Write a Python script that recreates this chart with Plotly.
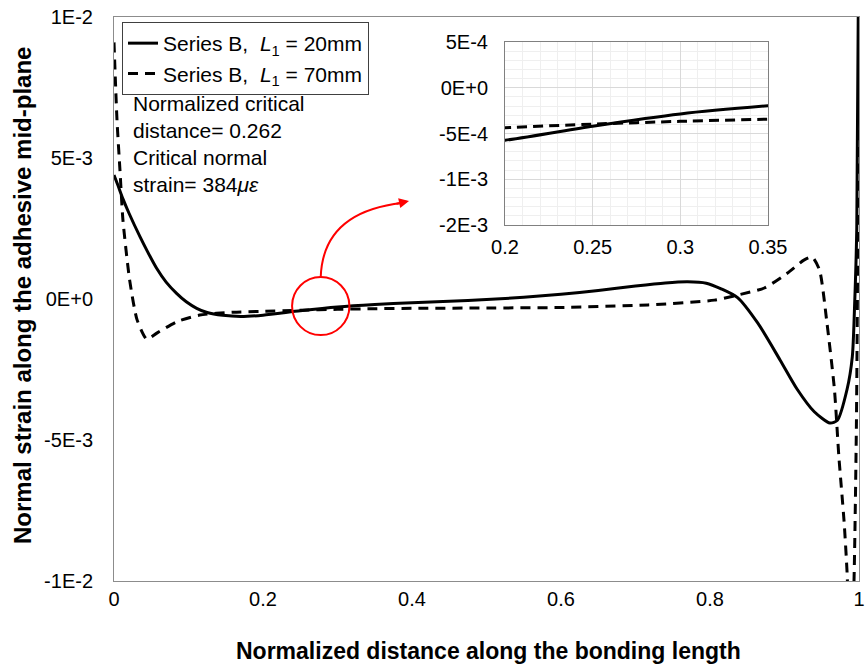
import plotly.graph_objects as go

# ---------------- data ----------------
x_solid = [0.0, 0.005, 0.012, 0.02, 0.035, 0.045, 0.057, 0.07, 0.084, 0.097, 0.111, 0.125, 0.146,
           0.17, 0.2, 0.25, 0.3, 0.35, 0.4, 0.45, 0.5, 0.55, 0.6, 0.65, 0.7, 0.74, 0.77, 0.795,
           0.815, 0.837, 0.864, 0.894, 0.917, 0.94, 0.961, 0.971, 0.984, 0.991, 0.994, 0.997, 1.0]
y_solid = [4.4e-3, 4.05e-3, 3.55e-3, 3.05e-3, 2.2e-3, 1.68e-3, 1.1e-3, 0.6e-3, 0.2e-3, -0.1e-3,
           -0.33e-3, -0.48e-3, -0.58e-3, -0.62e-3, -0.574e-3, -0.42e-3, -0.286e-3, -0.197e-3,
           -0.13e-3, -0.08e-3, -0.02e-3, 0.06e-3, 0.17e-3, 0.3e-3, 0.46e-3, 0.57e-3, 0.61e-3,
           0.56e-3, 0.36e-3, 0.05e-3, -0.85e-3, -2.16e-3, -3.2e-3, -4.0e-3, -4.4e-3, -4.3e-3,
           -3.2e-3, -2.05e-3, -0.3e-3, 2.5e-3, 14e-3]

x_dash = [0.0, 0.004, 0.008, 0.012, 0.021, 0.031, 0.044, 0.058, 0.085, 0.115, 0.16, 0.2, 0.25,
          0.3, 0.35, 0.4, 0.5, 0.6, 0.717, 0.806, 0.837, 0.873, 0.904, 0.926, 0.937, 0.947,
          0.957, 0.967, 0.973, 0.98, 0.984, 0.9885, 0.993, 0.9965, 0.999, 1.0]
y_dash = [9.1e-3, 6.35e-3, 4.57e-3, 2.8e-3, 0.67e-3, -0.74e-3, -1.42e-3, -1.2e-3, -0.8e-3, -0.57e-3,
          -0.47e-3, -0.437e-3, -0.397e-3, -0.367e-3, -0.344e-3, -0.33e-3, -0.32e-3, -0.3e-3,
          -0.21e-3, -0.04e-3, 0.14e-3, 0.39e-3, 0.92e-3, 1.38e-3, 1.49e-3, 1.03e-3, -0.85e-3,
          -3.2e-3, -5.6e-3, -7.9e-3, -9.7e-3, -13e-3, -10.3e-3, -4.5e-3, 5e-3, 12e-3]

series_names = ["Series B,  <i>L</i><sub>1</sub> = 20mm", "Series B,  <i>L</i><sub>1</sub> = 70mm"]

main_xticks = [0, 0.2, 0.4, 0.6, 0.8, 1]
main_xticktext = ["0", "0.2", "0.4", "0.6", "0.8", "1"]
main_yticks = [-0.01, -0.005, 0, 0.005, 0.01]
main_yticktext = ["-1E-2", "-5E-3", "0E+0", "5E-3", "1E-2"]

inset_xticks = [0.2, 0.25, 0.3, 0.35]
inset_xticktext = ["0.2", "0.25", "0.3", "0.35"]
inset_yticks = [-1.5e-3, -1e-3, -5e-4, 0, 5e-4]
inset_yticktext = ["-2E-3", "-1E-3", "-5E-4", "0E+0", "5E-4"]

note_lines = ["Normalized critical", "distance= 0.262", "Critical normal",
              "strain= 384<i>με</i>"]

# critical zone marker (data units)
crit_x0, crit_x1 = 0.239, 0.316
crit_y0, crit_y1 = -1.28e-3, 0.78e-3

FONT = "Liberation Sans, Arial, sans-serif"
XR = [0, 1]
YR = [-0.01, 0.01]

fig = go.Figure()

fig.add_trace(go.Scatter(x=x_solid, y=y_solid, mode="lines", name=series_names[0],
                         line=dict(color="black", width=3, shape="spline", smoothing=0.7)))
fig.add_trace(go.Scatter(x=x_dash, y=y_dash, mode="lines", name=series_names[1],
                         line=dict(color="black", width=3, dash="10px,7px", shape="spline", smoothing=0.6)))

# inset copies
fig.add_trace(go.Scatter(x=x_solid, y=y_solid, mode="lines", showlegend=False,
                         line=dict(color="black", width=3, shape="spline", smoothing=0.7),
                         xaxis="x2", yaxis="y2"))
fig.add_trace(go.Scatter(x=x_dash, y=y_dash, mode="lines", showlegend=False,
                         line=dict(color="black", width=3, dash="10px,6px", shape="spline", smoothing=0.6),
                         xaxis="x2", yaxis="y2"))

W, H = 865, 670
ML, MR, MT, MB = 114, 6, 17, 89
PW = W - ML - MR
PH = H - MT - MB

def px_to_paper(px, py):
    return (px - ML) / PW, (H - MB - py) / PH

def data_to_paper(x, y):
    return (x - XR[0]) / (XR[1] - XR[0]), (y - YR[0]) / (YR[1] - YR[0])

# circle
fig.add_shape(type="circle", xref="x", yref="y", x0=crit_x0, x1=crit_x1, y0=crit_y0, y1=crit_y1,
              line=dict(color="red", width=2))

# curved arrow from circle top to the inset
cx = (crit_x0 + crit_x1) / 2
sx, sy = data_to_paper(cx, crit_y1)
ctrl = px_to_paper(323, 212)
end = px_to_paper(402, 203)
path = f"M {sx:.5f},{sy:.5f} Q {ctrl[0]:.5f},{ctrl[1]:.5f} {end[0]:.5f},{end[1]:.5f}"
fig.add_shape(type="path", xref="paper", yref="paper", path=path, line=dict(color="red", width=2))
tip = px_to_paper(409, 201)
fig.add_annotation(x=tip[0], y=tip[1], xref="paper", yref="paper", ax=-14, ay=3, text="",
                   showarrow=True, arrowhead=2, arrowsize=1, arrowwidth=2, arrowcolor="red")

# note text
for i, t in enumerate(note_lines):
    px, py = px_to_paper(131, 103 + i * 27)
    fig.add_annotation(x=px, y=py, xref="paper", yref="paper", text=t, showarrow=False,
                       xanchor="left", yanchor="middle", font=dict(size=21, color="black", family=FONT))

# axis titles
tx, ty = px_to_paper(22, 296)
fig.add_annotation(x=tx, y=ty, xref="paper", yref="paper", text="<b>Normal strain along the adhesive mid-plane</b>",
                   textangle=-90, showarrow=False, xanchor="center", yanchor="middle",
                   font=dict(size=24, color="black", family=FONT))
tx, ty = px_to_paper(488, 651)
fig.add_annotation(x=tx, y=ty, xref="paper", yref="paper", text="<b>Normalized distance along the bonding length</b>",
                   showarrow=False, xanchor="center", yanchor="middle",
                   font=dict(size=23, color="black", family=FONT))

ix0, iy0 = px_to_paper(505, 225)
ix1, iy1 = px_to_paper(768, 42)

fig.update_layout(
    width=W, height=H, autosize=False,
    margin=dict(l=ML, r=MR, t=MT, b=MB, autoexpand=False),
    paper_bgcolor="white", plot_bgcolor="white",
    font=dict(family=FONT, size=20, color="black"),
    showlegend=True,
    legend=dict(x=px_to_paper(122, 0)[0], y=px_to_paper(0, 22)[1], xanchor="left", yanchor="top",
                bgcolor="white", bordercolor="#404040", borderwidth=1,
                font=dict(size=21, family=FONT, color="black"), tracegroupgap=0),
    xaxis=dict(range=XR, tickvals=main_xticks, ticktext=main_xticktext, showgrid=False, zeroline=False,
               showline=True, linecolor="#8c8c8c", linewidth=1, mirror=True, ticks="",
               tickfont=dict(size=20), domain=[0, 1], automargin=False, ticklabeloverflow="allow"),
    yaxis=dict(range=YR, tickvals=main_yticks, ticktext=main_yticktext, showgrid=False, zeroline=False,
               showline=True, linecolor="#8c8c8c", linewidth=1, mirror=True, ticks="",
               tickfont=dict(size=20), domain=[0, 1], ticklabelstandoff=16, automargin=False,
               ticklabeloverflow="allow"),
    xaxis2=dict(range=[0.2, 0.35], domain=[ix0, ix1], anchor="y2", tickvals=inset_xticks,
                ticktext=inset_xticktext, showgrid=True, gridcolor="#d9d9d9", gridwidth=1,
                minor=dict(dtick=0.01, showgrid=True, gridcolor="#efefef"),
                zeroline=False, showline=True, linecolor="#808080", mirror=True, ticks="",
                tickfont=dict(size=20), ticklabelstandoff=4, automargin=False),
    yaxis2=dict(range=[-1.5e-3, 5e-4], domain=[iy0, iy1], anchor="x2", tickvals=inset_yticks,
                ticktext=inset_yticktext, showgrid=True, gridcolor="#d9d9d9", gridwidth=1,
                minor=dict(dtick=1e-4, showgrid=True, gridcolor="#efefef"),
                zeroline=False, showline=True, linecolor="#808080", mirror=True, ticks="",
                tickfont=dict(size=20), ticklabelstandoff=12, automargin=False),
)

fig.write_html("out.html", config={"responsive": False, "displayModeBar": False},
               post_script="document.body.style.margin='0px';document.body.style.overflow='hidden';")
